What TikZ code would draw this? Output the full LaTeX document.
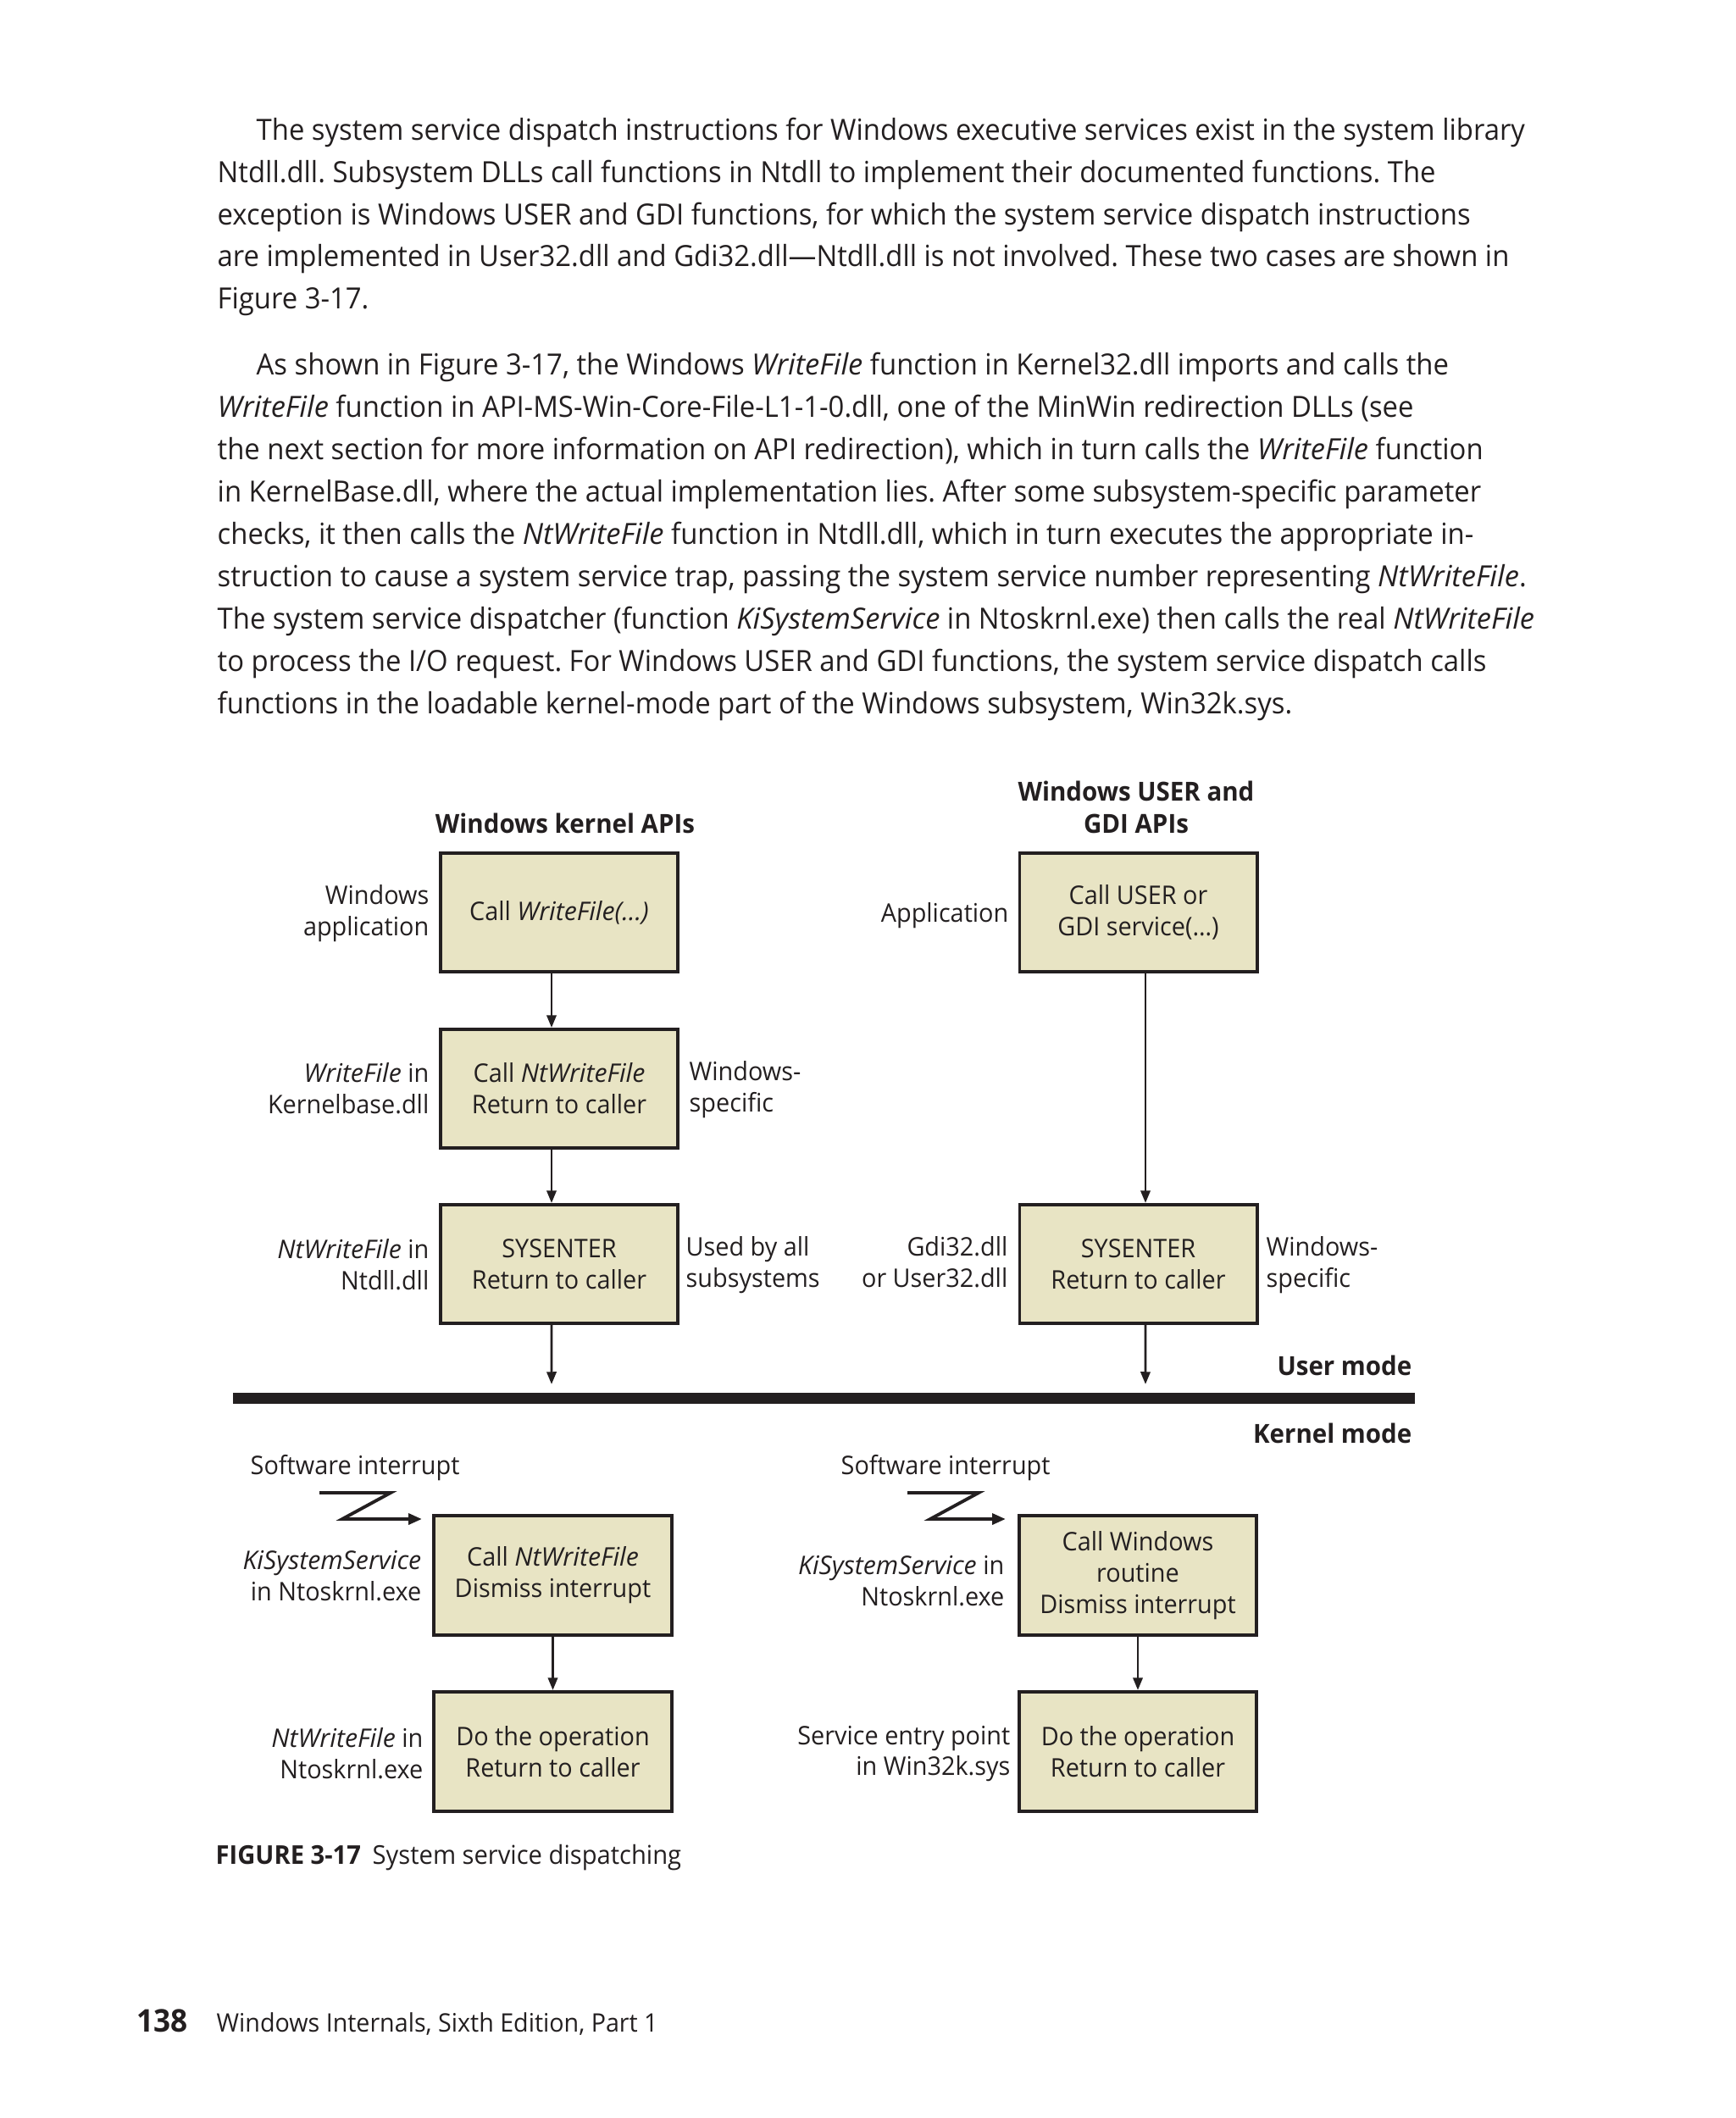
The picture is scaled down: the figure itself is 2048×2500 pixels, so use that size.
\documentclass[tikz,border=0pt]{standalone}
\usepackage{fontspec}
\setmainfont{Open Sans}[FakeStretch=0.953,ItalicFeatures={FakeStretch=1.0}]
\usetikzlibrary{arrows.meta}
\definecolor{boxfill}{RGB}{232,228,196}
\definecolor{ink}{RGB}{35,31,32}
\frenchspacing
\begin{document}
\begin{tikzpicture}[x=0.01cm,y=-0.01cm,
  body/.style={anchor=base west,inner sep=0,font=\fontsize{9.8}{12}\selectfont,text=ink},
  lab/.style={inner sep=0,font=\fontsize{8.6}{10.5}\selectfont,text=ink},
  labr/.style={lab,anchor=east,align=right},
  labl/.style={lab,anchor=west,align=left},
  ttl/.style={inner sep=0,font=\fontsize{8.8}{10.6}\selectfont\bfseries,text=ink,align=center},
  dbox/.style={draw=ink,line width=1.1pt,fill=boxfill,minimum width=2.8cm,minimum height=1.4cm,
    align=center,inner sep=0,font=\fontsize{8.6}{10.5}\selectfont,text=ink},
  arr/.style={draw=ink,line width=0.8pt,-{Triangle[length=4.2pt,width=3.2pt]}},
  zig/.style={draw=ink,line width=1.1pt,line join=miter,-{Triangle[length=4.5pt,width=3.6pt]}}
]
\useasboundingbox (0,0) rectangle (2048,2500);
\fill[white] (0,0) rectangle (2048,2500);

% body text
\node[body] (p1a) at (302,166) {The system service dispatch instructions for Windows executive services exist in the system library};
\node[body] (p1b) at (256,215.5) {Ntdll.dll. Subsystem DLLs call functions in Ntdll to implement their documented functions. The};
\node[body] (p1c) at (256,265) {exception is Windows USER and GDI functions, for which the system service dispatch instructions};
\node[body] (p1d) at (256,314.5) {are implemented in User32.dll and Gdi32.dll—Ntdll.dll is not involved. These two cases are shown in};
\node[body] (p1e) at (256,364) {Figure 3-17.};

\node[body] (p2a) at (302,442) {As shown in Figure 3-17, the Windows \textit{WriteFile} function in Kernel32.dll imports and calls the};
\node[body] (p2b) at (256,492) {\textit{WriteFile} function in API-MS-Win-Core-File-L1-1-0.dll, one of the MinWin redirection DLLs (see};
\node[body] (p2c) at (256,542) {the next section for more information on API redirection), which in turn calls the \textit{WriteFile} function};
\node[body] (p2d) at (256,592) {in KernelBase.dll, where the actual implementation lies. After some subsystem-specific parameter};
\node[body] (p2e) at (256,642) {checks, it then calls the \textit{NtWriteFile} function in Ntdll.dll, which in turn executes the appropriate in-};
\node[body] (p2f) at (256,692) {struction to cause a system service trap, passing the system service number representing \textit{NtWriteFile}.};
\node[body] (p2g) at (256,742) {The system service dispatcher (function \textit{KiSystemService} in Ntoskrnl.exe) then calls the real \textit{NtWriteFile}};
\node[body] (p2h) at (256,792) {to process the I/O request. For Windows USER and GDI functions, the system service dispatch calls};
\node[body] (p2i) at (256,842) {functions in the loadable kernel-mode part of the Windows subsystem, Win32k.sys.};

% titles
\node[ttl] (t1) at (667,972) {Windows kernel APIs};
\node[ttl] (t2) at (1341,953) {Windows USER and\\GDI APIs};

% user-mode boxes
\node[dbox] (u1) at (660,1077) {Call \textit{WriteFile(…)}};
\node[dbox] (u2) at (660,1285) {Call \textit{NtWriteFile}\\Return to caller};
\node[dbox] (u3) at (660,1492) {SYSENTER\\Return to caller};
\node[dbox] (r1) at (1343.5,1077) {Call USER or\\GDI service(…)};
\node[dbox] (r3) at (1343.5,1492) {SYSENTER\\Return to caller};

% labels
\node[labr] (l1) at (507,1078) {Windows\\application};
\node[labr] (l2) at (507,1285) {\textit{WriteFile} in\\Kernelbase.dll};
\node[labl] (l2r) at (813,1286) {Windows-\\specific};
\node[labr] (l3) at (507,1493) {\textit{NtWriteFile} in\\Ntdll.dll};
\node[labl] (l3r) at (809,1493) {Used by all\\subsystems};
\node[labr] (m1) at (1191,1081) {Application};
\node[labr] (m3) at (1190,1490) {Gdi32.dll\\or User32.dll};
\node[labl] (m3r) at (1494,1493) {Windows-\\specific};

% mode divider
\coordinate (barL) at (275,1650);
\coordinate (barR) at (1670,1650);
\draw[ink,line width=3.7pt] (barL) -- (barR);
\node[ttl,anchor=east] (um) at (1667,1612) {User mode};
\node[ttl,anchor=east] (km) at (1667,1692) {Kernel mode};
\coordinate (tipL) at (651,1634);
\coordinate (tipR) at (1352,1634);

% user arrows
\draw[arr] ([xshift=-0.09cm]u1.south) -- ([xshift=-0.09cm]u2.north);
\draw[arr] ([xshift=-0.09cm]u2.south) -- ([xshift=-0.09cm]u3.north);
\draw[arr] ([xshift=-0.09cm]u3.south) -- (tipL);
\draw[arr] ([xshift=0.085cm]r1.south) -- ([xshift=0.085cm]r3.north);
\draw[arr] ([xshift=0.085cm]r3.south) -- (tipR);

% kernel boxes
\node[dbox,minimum width=2.81cm,minimum height=1.41cm] (k1) at (652.5,1859.5) {Call \textit{NtWriteFile}\\Dismiss interrupt};
\node[dbox,minimum width=2.81cm,minimum height=1.41cm] (k2) at (652.5,2067.5) {Do the operation\\Return to caller};
\node[dbox,minimum width=2.8cm,minimum height=1.41cm] (q1) at (1343,1859.5) {Call Windows\\routine\\Dismiss interrupt};
\node[dbox,minimum width=2.8cm,minimum height=1.41cm] (q2) at (1343,2067.5) {Do the operation\\Return to caller};

\draw[arr] (k1.south) -- (k2.north);
\draw[arr] (q1.south) -- (q2.north);

\node[labl] (s1) at (295,1733) {Software interrupt};
\node[labl] (s2) at (992,1733) {Software interrupt};
\coordinate (z1a) at (377,1762);
\coordinate (z1b) at (461,1762);
\coordinate (z1c) at (404,1793);
\coordinate (z1d) at (498,1793);
\draw[zig] (z1a) -- (z1b) -- (z1c) -- (z1d);
\coordinate (z2a) at (1071,1762);
\coordinate (z2b) at (1155,1762);
\coordinate (z2c) at (1098,1793);
\coordinate (z2d) at (1187,1793);
\draw[zig] (z2a) -- (z2b) -- (z2c) -- (z2d);

\node[labr] (n1) at (498,1860) {\textit{KiSystemService}\\in Ntoskrnl.exe};
\node[labr] (n2) at (1186,1866) {\textit{KiSystemService} in\\Ntoskrnl.exe};
\node[labr] (n3) at (500,2070) {\textit{NtWriteFile} in\\Ntoskrnl.exe};
\node[labr] (n4) at (1193,2070) {Service entry point\\in Win32k.sys};

% caption
\node[anchor=base west,inner sep=0,font=\fontsize{8.7}{10}\selectfont,text=ink] (cap) at (254,2200) {\textbf{FIGURE 3-17}\hspace{0.45em}System service dispatching};

% footer
\node[anchor=base west,inner sep=0,font=\fontsize{10.5}{12}\selectfont\bfseries,text=ink] (pg) at (161,2398) {138};
\node[anchor=base west,inner sep=0,font=\fontsize{8.55}{12}\selectfont,text=ink] (ft) at (255,2398) {Windows Internals, Sixth Edition, Part 1};
\end{tikzpicture}
\end{document}
